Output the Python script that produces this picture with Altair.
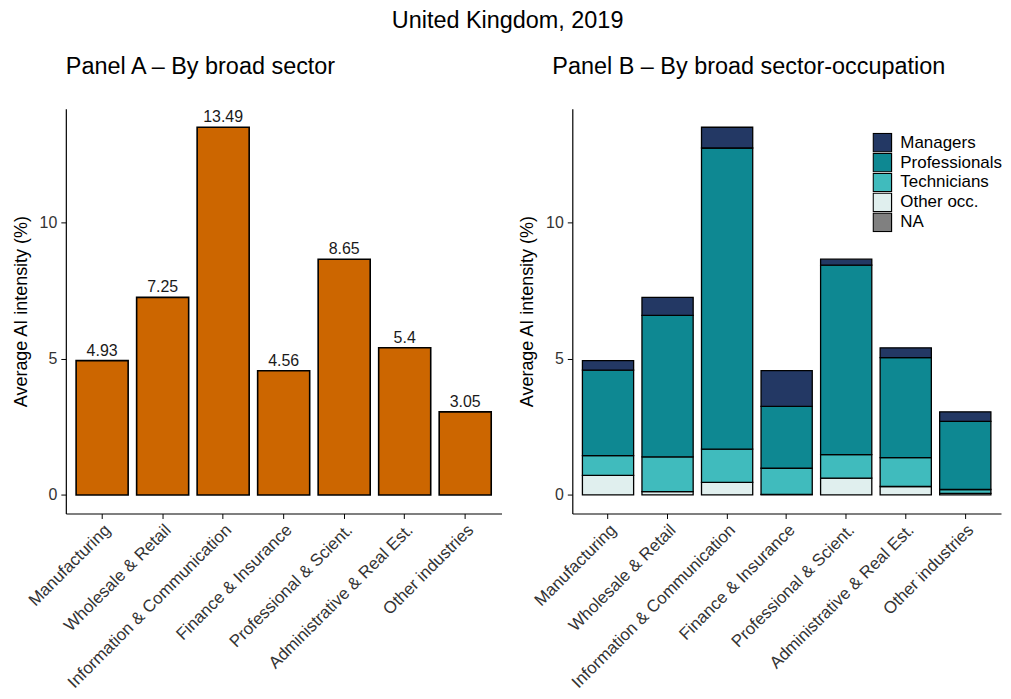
import altair as alt
import pandas as pd

sectors = ["Manufacturing", "Wholesale & Retail", "Information & Communication",
           "Finance & Insurance", "Professional & Scient.", "Administrative & Real Est.",
           "Other industries"]
totals = [4.93, 7.25, 13.49, 4.56, 8.65, 5.40, 3.05]

occupations = ["Managers", "Professionals", "Technicians", "Other occ.", "NA"]
occ_colors = ["#233864", "#0e8892", "#40bbbd", "#e0efee", "#808080"]
managers = [0.35, 0.66, 0.76, 1.31, 0.22, 0.36, 0.35]
professionals = [3.14, 5.19, 11.05, 2.27, 6.95, 3.67, 2.50]
technicians = [0.72, 1.28, 1.22, 0.96, 0.86, 1.06, 0.14]
other_occ = [0.72, 0.12, 0.46, 0.02, 0.62, 0.31, 0.06]

FONT = "Liberation Sans"
ydom = [-0.68, 14.17]

dfA = pd.DataFrame({"sector": sectors, "value": totals,
                    "label": [f"{v:g}" for v in totals]})

rows = []
for i, s in enumerate(sectors):
    for occ, arr, order in [("Other occ.", other_occ, 0), ("Technicians", technicians, 1),
                            ("Professionals", professionals, 2), ("Managers", managers, 3)]:
        rows.append({"sector": s, "occ": occ, "value": arr[i], "ord": order})
dfB = pd.DataFrame(rows)

xA = alt.X("sector:N", sort=sectors, title=None,
           scale=alt.Scale(paddingInner=0.14, paddingOuter=0.17),
           axis=alt.Axis(labelAngle=-45, labelAlign="right", labelBaseline="top",
                         labelFontSize=17, labelColor="#333333", labelPadding=3,
                         tickSize=5, tickColor="#000000", domainColor="#000000",
                         domainWidth=1.2, labelLimit=400))
yAxis = alt.Axis(values=[0, 5, 10], title="Average AI intensity (%)", titleFontSize=18,
                 titleFontWeight="normal", titleColor="#000000", labelFontSize=16,
                 labelColor="#333333", tickSize=5, tickColor="#000000",
                 domainColor="#000000", domainWidth=1.2, grid=False, titlePadding=9,
                 labelPadding=4)

barsA = alt.Chart(dfA).mark_bar(color="#cc6600", stroke="#000000", strokeWidth=1.6).encode(
    x=xA,
    y=alt.Y("value:Q", scale=alt.Scale(domain=ydom, nice=False, zero=False), axis=yAxis),
)
textA = alt.Chart(dfA).mark_text(baseline="bottom", dy=-2, fontSize=16, font=FONT,
                                 color="#1a1a1a").encode(
    x=alt.X("sector:N", sort=sectors), y=alt.Y("value:Q"), text="label:N")

panelA = alt.layer(barsA, textA).properties(
    width=437, height=406,
    title=alt.TitleParams("Panel A – By broad sector", anchor="start", fontSize=23.5,
                          fontWeight="normal", font=FONT, offset=30, color="#000000",
                          frame="group"))

barsB = alt.Chart(dfB).mark_bar(stroke="#000000", strokeWidth=1.3).encode(
    x=xA,
    y=alt.Y("sum(value):Q", stack="zero",
            scale=alt.Scale(domain=ydom, nice=False, zero=False), axis=yAxis),
    color=alt.Color("occ:N", scale=alt.Scale(domain=occupations, range=occ_colors),
                    legend=alt.Legend(title=None, orient="none", legendX=809, legendY=24,
                                      symbolType="square", symbolSize=340,
                                      symbolStrokeColor="#000000", symbolStrokeWidth=1.2,
                                      labelFontSize=17, labelFont=FONT, labelColor="#000000",
                                      rowPadding=0, clipHeight=20, symbolOpacity=1,
                                      labelOffset=8)),
    order=alt.Order("ord:Q", sort="ascending"),
)
panelB = barsB.properties(
    width=430, height=406,
    title=alt.TitleParams("Panel B – By broad sector-occupation", anchor="start",
                          fontSize=23.5, fontWeight="normal", font=FONT, offset=30, dx=-20,
                          color="#000000", frame="group"))

chart = alt.hconcat(panelA, panelB, spacing=71, bounds="flush").properties(
    title=alt.TitleParams("United Kingdom, 2019", anchor="middle", fontSize=23.5,
                          fontWeight="normal", font=FONT, color="#000000", offset=20, dy=-3),
    padding={"left": 4, "top": 0, "right": 0, "bottom": 0},
).configure(font=FONT).configure_view(stroke=None).configure_axis(
    labelFont=FONT, titleFont=FONT)

chart.save("out.html", embed_options={"renderer": "svg", "actions": False})
